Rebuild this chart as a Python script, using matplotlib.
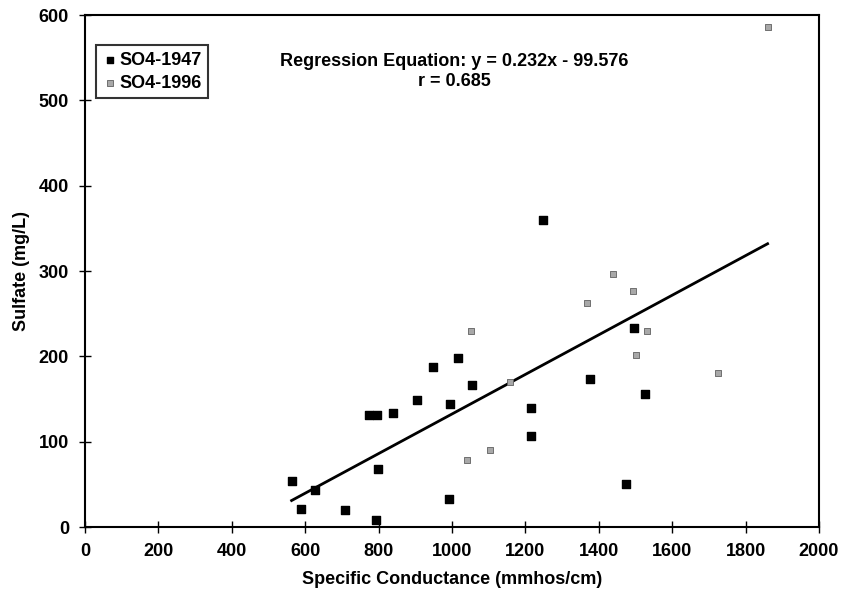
import matplotlib.pyplot as plt
import numpy as np

plt.rcParams['font.family'] = ['Liberation Sans', 'DejaVu Sans']
plt.rcParams['font.weight'] = 'bold'

# SO4-1947 samples (specific conductance, sulfate)
cond_1947 = [563, 627, 588, 709, 793, 798, 775, 795, 840, 904, 949, 1017,
             995, 1055, 993, 1249, 1216, 1216, 1497, 1376, 1526, 1474]
so4_1947 = [54, 43, 21, 20, 8, 68, 131, 131, 134, 149, 188, 198,
            144, 166, 33, 360, 140, 107, 233, 173, 156, 50]

# SO4-1996 samples
cond_1996 = [1052, 1158, 1104, 1040, 1367, 1532, 1501, 1726, 1438, 1492, 1860]
so4_1996 = [230, 170, 90, 79, 263, 230, 202, 181, 297, 277, 586]

slope = 0.232
intercept = -99.576
r_value = 0.685

fig = plt.figure(figsize=(8.43, 5.98), dpi=100)
ax = fig.add_axes([0.1008, 0.1187, 0.8707, 0.8562])

ax.scatter(cond_1947, so4_1947, marker='s', s=30, color='black', label='SO4-1947', zorder=3)
ax.scatter(cond_1996, so4_1996, marker='s', s=18, facecolor='#a8a8a8', edgecolor='#606060',
           linewidths=0.6, label='SO4-1996', zorder=3)

# regression line across the range of the data
all_x = np.array(cond_1947 + cond_1996)
xl = np.array([all_x.min(), all_x.max()])
ax.plot(xl, slope * xl + intercept, color='black', lw=2, zorder=2)

ax.set_xlim(0, 2000)
ax.set_ylim(0, 600)
ax.set_xticks(np.arange(0, 2001, 200))
ax.set_yticks(np.arange(0, 601, 100))
ax.tick_params(direction='inout', length=9, width=1, labelsize=13, pad=7)
for s in ax.spines.values():
    s.set_linewidth(1.5)

ax.set_xlabel('Specific Conductance (mmhos/cm)', fontsize=13, fontweight='bold', labelpad=8)
ax.set_ylabel('Sulfate (mg/L)', fontsize=13, fontweight='bold', labelpad=6)

ax.text(0.503, 0.89, f'Regression Equation: y = {slope}x - {abs(intercept)}\nr = {r_value}',
        transform=ax.transAxes, ha='center', va='center', fontsize=13,
        fontweight='bold', linespacing=1.25)

leg = ax.legend(loc='upper left', bbox_to_anchor=(0.015, 0.941), fontsize=13,
                frameon=True, fancybox=False, handletextpad=0.05, handlelength=0.9,
                borderpad=0.35, labelspacing=0.35, borderaxespad=0)
leg.get_frame().set_edgecolor('black')
leg.get_frame().set_linewidth(1.5)
leg.legend_handles[0].set_sizes([22])
leg.legend_handles[1].set_sizes([22])

fig.savefig('out.png', dpi=100)
